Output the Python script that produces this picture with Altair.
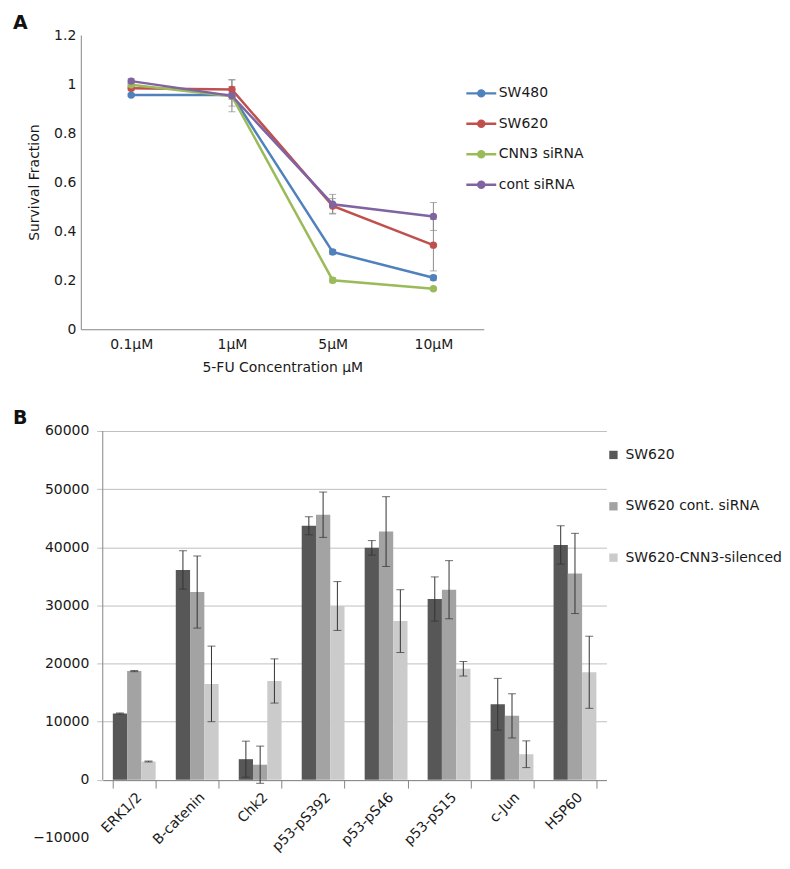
import altair as alt
import pandas as pd

FONT = "DejaVu Sans"

# ---------------- Panel A data ----------------
conc = ["0.1μM", "1μM", "5μM", "10μM"]
series_a = ["SW480", "SW620", "CNN3 siRNA", "cont siRNA"]
colors_a = ["#4f81bd", "#c0504d", "#9bbb59", "#8064a2"]
sw480 = [0.955, 0.955, 0.315, 0.21]
sw480_err = [0.005, 0.01, 0.01, 0.01]
sw620 = [0.983, 0.978, 0.503, 0.343]
sw620_err = [0.01, 0.04, 0.03, 0.105]
cnn3 = [0.997, 0.95, 0.2, 0.165]
cnn3_err = [0.01, 0.04, 0.01, 0.005]
cont = [1.012, 0.952, 0.51, 0.46]
cont_err = [0.01, 0.065, 0.04, 0.057]
y_ticks_a = [0, 0.2, 0.4, 0.6, 0.8, 1.0, 1.2]

# ---------------- Panel B data ----------------
targets = ["ERK1/2", "B-catenin", "Chk2", "p53-pS392", "p53-pS46", "p53-pS15", "c-Jun", "HSP60"]
series_b = ["SW620", "SW620 cont. siRNA", "SW620-CNN3-silenced"]
colors_b = ["#575757", "#a3a3a3", "#cbcbcb"]
b_sw620 = [11400, 36100, 3550, 43700, 39900, 31100, 13000, 40400]
b_sw620_err = [100, 3300, 3100, 1550, 1250, 3800, 4450, 3300]
b_cont = [18700, 32300, 2600, 45600, 42700, 32700, 11000, 35500]
b_cont_err = [100, 6200, 3200, 3900, 6000, 5000, 3800, 6900]
b_cnn3 = [3150, 16500, 17000, 29900, 27300, 19100, 4400, 18500]
b_cnn3_err = [80, 6500, 3800, 4200, 5400, 1250, 2300, 6200]
y_ticks_b = [-10000, 0, 10000, 20000, 30000, 40000, 50000, 60000]

rows_a = []
for s, vals, errs in zip(series_a, [sw480, sw620, cnn3, cont], [sw480_err, sw620_err, cnn3_err, cont_err]):
    for c, v, e in zip(conc, vals, errs):
        rows_a.append({"series_a": s, "conc": c, "value": v, "lo": v - e, "hi": v + e})
df_a = pd.DataFrame(rows_a)

rows_b = []
for s, vals, errs in zip(series_b, [b_sw620, b_cont, b_cnn3], [b_sw620_err, b_cont_err, b_cnn3_err]):
    for t, v, e in zip(targets, vals, errs):
        rows_b.append({"series_b": s, "target": t, "value": v, "lo": v - e, "hi": v + e})
df_b = pd.DataFrame(rows_b)

# Panel A sits 22px further left than panel B (the concat aligns plot origins)
SHIFT_A = 22
W_A = 404

# ---------------- Panel A chart ----------------
x_a = alt.X("conc:N", sort=conc,
            scale=alt.Scale(type="point", padding=0.5, range=[-SHIFT_A, W_A - SHIFT_A]),
            axis=alt.Axis(title="5-FU Concentration μM", labelAngle=0, ticks=False,
                          domainColor="#868686", labelPadding=8, titlePadding=9))
y_scale_a = alt.Scale(domain=[0, 1.2], nice=False)
y_axis_a = alt.Axis(values=y_ticks_a, format="~g", title="Survival Fraction", ticks=False,
                    grid=False, domainColor="#868686", labelPadding=5, titlePadding=12,
                    offset=SHIFT_A)

legend_a = alt.Legend(title=None, orient="none", legendX=385 - SHIFT_A, legendY=42,
                      symbolType="M-1,0L1,0M-0.2,0A0.2,0.2,0,1,1,0.2,0A0.2,0.2,0,1,1,-0.2,0",
                      symbolSize=900, symbolStrokeWidth=2.5, labelFontSize=14, labelFont=FONT,
                      labelOffset=1, rowPadding=5.5, labelColor="#1a1a1a")
color_a = alt.Color("series_a:N", sort=series_a,
                    scale=alt.Scale(domain=series_a, range=colors_a), legend=legend_a)

base_a = alt.Chart(df_a)
err_rule_a = base_a.mark_rule(color="#8c8c8c", strokeWidth=1).encode(
    x=x_a, y=alt.Y("lo:Q", scale=y_scale_a, axis=y_axis_a), y2="hi:Q")
err_lo_a = base_a.mark_tick(color="#8c8c8c", size=7, thickness=1).encode(
    x=x_a, y=alt.Y("lo:Q", scale=y_scale_a))
err_hi_a = base_a.mark_tick(color="#8c8c8c", size=7, thickness=1).encode(
    x=x_a, y=alt.Y("hi:Q", scale=y_scale_a))
lines_a = base_a.mark_line(strokeWidth=2.5).encode(
    x=x_a, y=alt.Y("value:Q", scale=y_scale_a), color=color_a)
points_a = base_a.mark_circle(size=55, opacity=1).encode(
    x=x_a, y=alt.Y("value:Q", scale=y_scale_a), color=color_a)
label_a = alt.Chart(pd.DataFrame({"t": ["A"]})).mark_text(
    align="left", baseline="top", fontSize=19, fontWeight="bold", font=FONT, color="#111"
).encode(x=alt.value(-68 - SHIFT_A), y=alt.value(-21), text="t:N")

chart_a = alt.layer(err_rule_a, err_lo_a, err_hi_a, lines_a, points_a, label_a).properties(
    width=W_A - SHIFT_A, height=295)

# ---------------- Panel B chart ----------------
x_b = alt.X("target:N", sort=targets,
            scale=alt.Scale(paddingInner=0.32, paddingOuter=0.16),
            axis=alt.Axis(title=None, labelAngle=-45, tickBand="extent", offset=-58,
                          domainColor="#868686", tickColor="#868686", tickSize=8,
                          labelPadding=2, labelAlign="right", labelBaseline="top"))
xoff_b = alt.XOffset("series_b:N", sort=series_b)
y_scale_b = alt.Scale(domain=[-10000, 60000], nice=False)
y_axis_b = alt.Axis(values=y_ticks_b, format="d", title=None, domain=False,
                    gridColor=alt.condition("datum.value == -10000", alt.value("transparent"), alt.value("#c0c0c0")),
                    tickColor=alt.condition("datum.value == -10000", alt.value("transparent"), alt.value("#c0c0c0")),
                    tickSize=6, labelPadding=8)
legend_b = alt.Legend(title=None, orient="none", legendX=505, legendY=17, symbolType="square",
                      symbolSize=70, symbolStrokeWidth=0, labelFontSize=14, labelFont=FONT,
                      rowPadding=37.5, labelOffset=5, labelColor="#1a1a1a")
color_b = alt.Color("series_b:N", sort=series_b,
                    scale=alt.Scale(domain=series_b, range=colors_b), legend=legend_b)

base_b = alt.Chart(df_b)
bars_b = base_b.mark_bar().encode(
    x=x_b, xOffset=xoff_b, y=alt.Y("value:Q", scale=y_scale_b, axis=y_axis_b), color=color_b)
err_rule_b = base_b.mark_rule(color="#333333", strokeWidth=1).encode(
    x=x_b, xOffset=xoff_b, y=alt.Y("lo:Q", scale=y_scale_b), y2="hi:Q")
err_lo_b = base_b.mark_tick(color="#333333", size=8, thickness=1).encode(
    x=x_b, xOffset=xoff_b, y=alt.Y("lo:Q", scale=y_scale_b))
err_hi_b = base_b.mark_tick(color="#333333", size=8, thickness=1).encode(
    x=x_b, xOffset=xoff_b, y=alt.Y("hi:Q", scale=y_scale_b))
yaxis_line_b = alt.Chart(pd.DataFrame({"lo": [0], "hi": [max(y_ticks_b)]})).mark_rule(
    color="#868686", strokeWidth=1).encode(
    x=alt.value(0), y=alt.Y("lo:Q", scale=y_scale_b), y2="hi:Q")
label_b = alt.Chart(pd.DataFrame({"t": ["B"]})).mark_text(
    align="left", baseline="top", fontSize=19, fontWeight="bold", font=FONT, color="#111"
).encode(x=alt.value(-90), y=alt.value(-22), text="t:N")

chart_b = alt.layer(bars_b, err_rule_b, err_lo_b, err_hi_b, yaxis_line_b, label_b).properties(
    width=505, height=408)

chart = alt.concat(chart_a, chart_b, columns=1, spacing=35).resolve_scale(
    color="independent", x="independent", y="independent"
).configure_view(stroke=None).configure_axis(
    labelFont=FONT, titleFont=FONT, labelFontSize=14, titleFontSize=14,
    titleFontWeight="normal", labelColor="#1a1a1a", titleColor="#1a1a1a"
).properties(padding={"left": 5, "top": 5, "right": 0, "bottom": 0})

chart.save("out.html", embed_options={"renderer": "svg", "actions": False})
